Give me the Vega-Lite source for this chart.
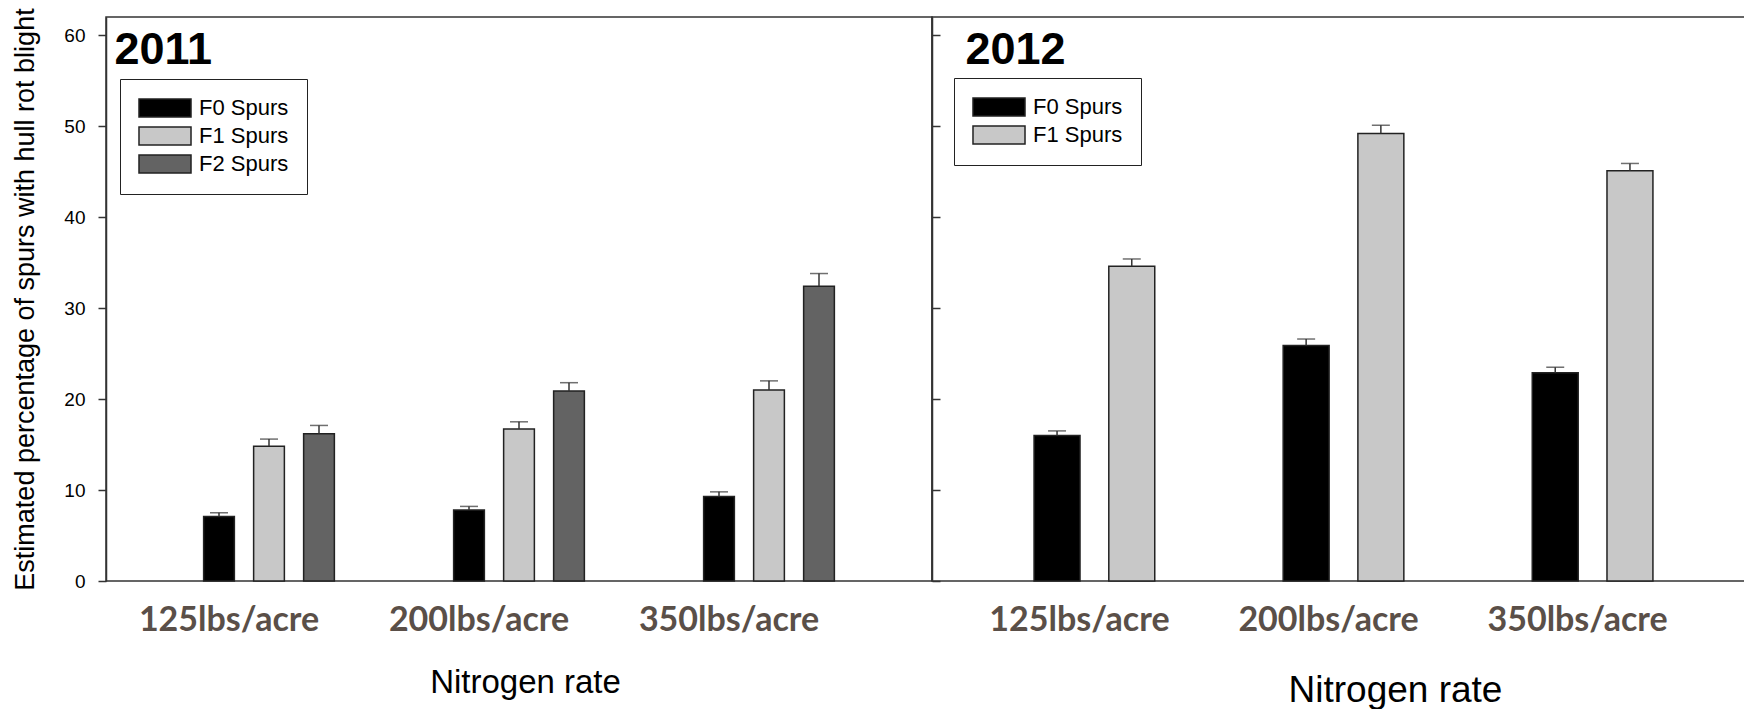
{
  "$schema": "https://vega.github.io/schema/vega-lite/v6.json",
  "padding": {"left": 11, "top": 7, "right": 0, "bottom": 0},
  "background": "white",
  "spacing": 0,
  "bounds": "flush",
  "config": {
    "font": "Liberation Sans",
    "view": {"stroke": "#333333", "strokeWidth": 1.5},
    "axis": {"grid": false, "domainColor": "#333333", "tickColor": "#333333", "domainWidth": 1.5, "tickWidth": 1.5}
  },
  "datasets": {
    "y2011": [
      {"rate": "125lbs/acre", "spur": "F0 Spurs", "value": 7.1, "upper": 7.5},
      {"rate": "125lbs/acre", "spur": "F1 Spurs", "value": 14.8, "upper": 15.6},
      {"rate": "125lbs/acre", "spur": "F2 Spurs", "value": 16.2, "upper": 17.1},
      {"rate": "200lbs/acre", "spur": "F0 Spurs", "value": 7.8, "upper": 8.2},
      {"rate": "200lbs/acre", "spur": "F1 Spurs", "value": 16.7, "upper": 17.5},
      {"rate": "200lbs/acre", "spur": "F2 Spurs", "value": 20.9, "upper": 21.8},
      {"rate": "350lbs/acre", "spur": "F0 Spurs", "value": 9.3, "upper": 9.8},
      {"rate": "350lbs/acre", "spur": "F1 Spurs", "value": 21.0, "upper": 22.0},
      {"rate": "350lbs/acre", "spur": "F2 Spurs", "value": 32.4, "upper": 33.8}
    ],
    "y2012": [
      {"rate": "125lbs/acre", "spur": "F0 Spurs", "value": 16.0, "upper": 16.5},
      {"rate": "125lbs/acre", "spur": "F1 Spurs", "value": 34.6, "upper": 35.4},
      {"rate": "200lbs/acre", "spur": "F0 Spurs", "value": 25.9, "upper": 26.6},
      {"rate": "200lbs/acre", "spur": "F1 Spurs", "value": 49.2, "upper": 50.1},
      {"rate": "350lbs/acre", "spur": "F0 Spurs", "value": 22.9, "upper": 23.5},
      {"rate": "350lbs/acre", "spur": "F1 Spurs", "value": 45.1, "upper": 45.9}
    ]
  },
  "resolve": {
    "scale": {"color": "independent", "xOffset": "independent", "x": "independent", "y": "independent"},
    "legend": {"color": "independent"}
  },
  "hconcat": [
    {
      "width": 826,
      "height": 564,
      "data": {"name": "y2011"},
      "resolve": {"axis": {"x": "independent"}},
      "encoding": {
        "x": {
          "field": "rate", "type": "nominal", "sort": null,
          "scale": {"paddingInner": 0.4, "paddingOuter": 0.352},
          "axis": {
            "title": "Nitrogen rate", "titleFontSize": 33, "titleFontWeight": "normal", "titleFont": "Liberation Sans", "titleColor": "#000000",
            "titleX": 419, "titleY": 111, "titleBaseline": "alphabetic",
            "labelFont": "Lato", "labelFontWeight": "bold", "labelFontSize": 34, "labelColor": "#5a4f48", "labelLimit": 0,
            "labelPadding": 22, "labelOffset": -40, "ticks": false, "tickSize": 0, "labelAngle": 0, "domain": false
          }
        },
        "xOffset": {"field": "spur", "type": "nominal", "sort": null, "scale": {"paddingInner": 0.385, "paddingOuter": 0.1925}},
        "y": {
          "field": "value", "type": "quantitative",
          "scale": {"domain": [0, 62], "nice": false},
          "axis": {
            "title": "Estimated percentage of spurs with hull rot blight", "titleFontSize": 27, "titleFontWeight": "normal", "titleColor": "#000000", "titlePadding": 24,
            "labelFontSize": 19, "labelColor": "#000000", "labelPadding": 13, "tickSize": 8,
            "values": [0, 10, 20, 30, 40, 50, 60]
          }
        }
      },
      "layer": [
        {
          "mark": {"type": "bar", "stroke": "#222222", "strokeWidth": 1.5},
          "encoding": {
            "color": {
              "field": "spur", "type": "nominal", "sort": null,
              "scale": {"domain": ["F0 Spurs", "F1 Spurs", "F2 Spurs"], "range": ["#000000", "#c8c8c8", "#636363"]},
              "legend": {
                "orient": "none", "legendX": 14, "legendY": 62, "title": null,
                "strokeColor": "#222222", "fillColor": "white", "padding": 18,
                "symbolType": "M-2.89,-1H2.89V1H-2.89Z", "symbolSize": 324,
                "symbolStrokeColor": "#222222", "symbolStrokeWidth": 1.5, "symbolOffset": 16,
                "labelOffset": 23, "labelFontSize": 22, "labelFont": "Liberation Sans", "labelColor": "#000000", "rowPadding": 4
              }
            }
          }
        },
        {
          "mark": {"type": "rule", "color": "#333333", "strokeWidth": 1.5},
          "encoding": {
            "x": {"field": "rate", "type": "nominal", "sort": null, "scale": {"paddingInner": 0.4, "paddingOuter": 0.352}, "axis": null},
            "y2": {"field": "upper"}
          }
        },
        {
          "mark": {"type": "tick", "color": "#333333", "thickness": 1.5, "size": 18},
          "encoding": {
            "x": {
              "field": "rate", "type": "nominal", "sort": null,
              "scale": {"paddingInner": 0.4, "paddingOuter": 0.352},
              "axis": {
                "orient": "top", "title": "2011", "titleFontSize": 45, "titleFontWeight": "bold", "titleFont": "Liberation Sans", "titleColor": "#000000",
                "titleX": 8, "titleY": 46, "titleAlign": "left", "titleAnchor": "start", "titleBaseline": "alphabetic",
                "labels": false, "ticks": false, "domain": false
              }
            },
            "y": {"field": "upper", "type": "quantitative",
              "axis": {
                "title": "Estimated percentage of spurs with hull rot blight", "titleFontSize": 27, "titleFontWeight": "normal", "titleColor": "#000000", "titlePadding": 24,
                "labelFontSize": 19, "labelColor": "#000000", "labelPadding": 13, "tickSize": 8,
                "values": [0, 10, 20, 30, 40, 50, 60]
              }}
          }
        }
      ]
    },
    {
      "width": 813,
      "height": 564,
      "data": {"name": "y2012"},
      "resolve": {"axis": {"x": "independent"}},
      "encoding": {
        "x": {
          "field": "rate", "type": "nominal", "sort": null,
          "scale": {"paddingInner": 0.4, "paddingOuter": 0.352, "range": [0, 823]},
          "axis": {
            "title": "Nitrogen rate", "titleFontSize": 37, "titleFontWeight": "normal", "titleFont": "Liberation Sans", "titleColor": "#000000",
            "titleX": 463, "titleY": 120, "titleBaseline": "alphabetic",
            "labelFont": "Lato", "labelFontWeight": "bold", "labelFontSize": 34, "labelColor": "#5a4f48", "labelLimit": 0,
            "labelPadding": 22, "labelOffset": -15, "ticks": false, "tickSize": 0, "labelAngle": 0, "domain": false
          }
        },
        "xOffset": {"field": "spur", "type": "nominal", "sort": null, "scale": {"paddingInner": 0.385, "paddingOuter": 0.1925}},
        "y": {
          "field": "value", "type": "quantitative",
          "scale": {"domain": [0, 62], "nice": false},
          "axis": {"title": null, "labels": false, "tickSize": -8, "values": [0, 10, 20, 30, 40, 50, 60]}
        }
      },
      "layer": [
        {
          "mark": {"type": "bar", "stroke": "#222222", "strokeWidth": 1.5},
          "encoding": {
            "color": {
              "field": "spur", "type": "nominal", "sort": null,
              "scale": {"domain": ["F0 Spurs", "F1 Spurs"], "range": ["#000000", "#c8c8c8"]},
              "legend": {
                "orient": "none", "legendX": 22, "legendY": 61, "title": null,
                "strokeColor": "#222222", "fillColor": "white", "padding": 18,
                "symbolType": "M-2.89,-1H2.89V1H-2.89Z", "symbolSize": 324,
                "symbolStrokeColor": "#222222", "symbolStrokeWidth": 1.5, "symbolOffset": 16,
                "labelOffset": 23, "labelFontSize": 22, "labelFont": "Liberation Sans", "labelColor": "#000000", "rowPadding": 4
              }
            }
          }
        },
        {
          "mark": {"type": "rule", "color": "#333333", "strokeWidth": 1.5},
          "encoding": {
            "x": {"field": "rate", "type": "nominal", "sort": null, "scale": {"paddingInner": 0.4, "paddingOuter": 0.352, "range": [0, 823]}, "axis": null},
            "y2": {"field": "upper"}
          }
        },
        {
          "mark": {"type": "tick", "color": "#333333", "thickness": 1.5, "size": 18},
          "encoding": {
            "x": {
              "field": "rate", "type": "nominal", "sort": null,
              "scale": {"paddingInner": 0.4, "paddingOuter": 0.352, "range": [0, 823]},
              "axis": {
                "orient": "top", "title": "2012", "titleFontSize": 45, "titleFontWeight": "bold", "titleFont": "Liberation Sans", "titleColor": "#000000",
                "titleX": 33, "titleY": 46, "titleAlign": "left", "titleAnchor": "start", "titleBaseline": "alphabetic",
                "labels": false, "ticks": false, "domain": false
              }
            },
            "y": {"field": "upper", "type": "quantitative",
              "axis": {"title": null, "labels": false, "tickSize": -8, "values": [0, 10, 20, 30, 40, 50, 60]}}
          }
        }
      ]
    }
  ]
}
